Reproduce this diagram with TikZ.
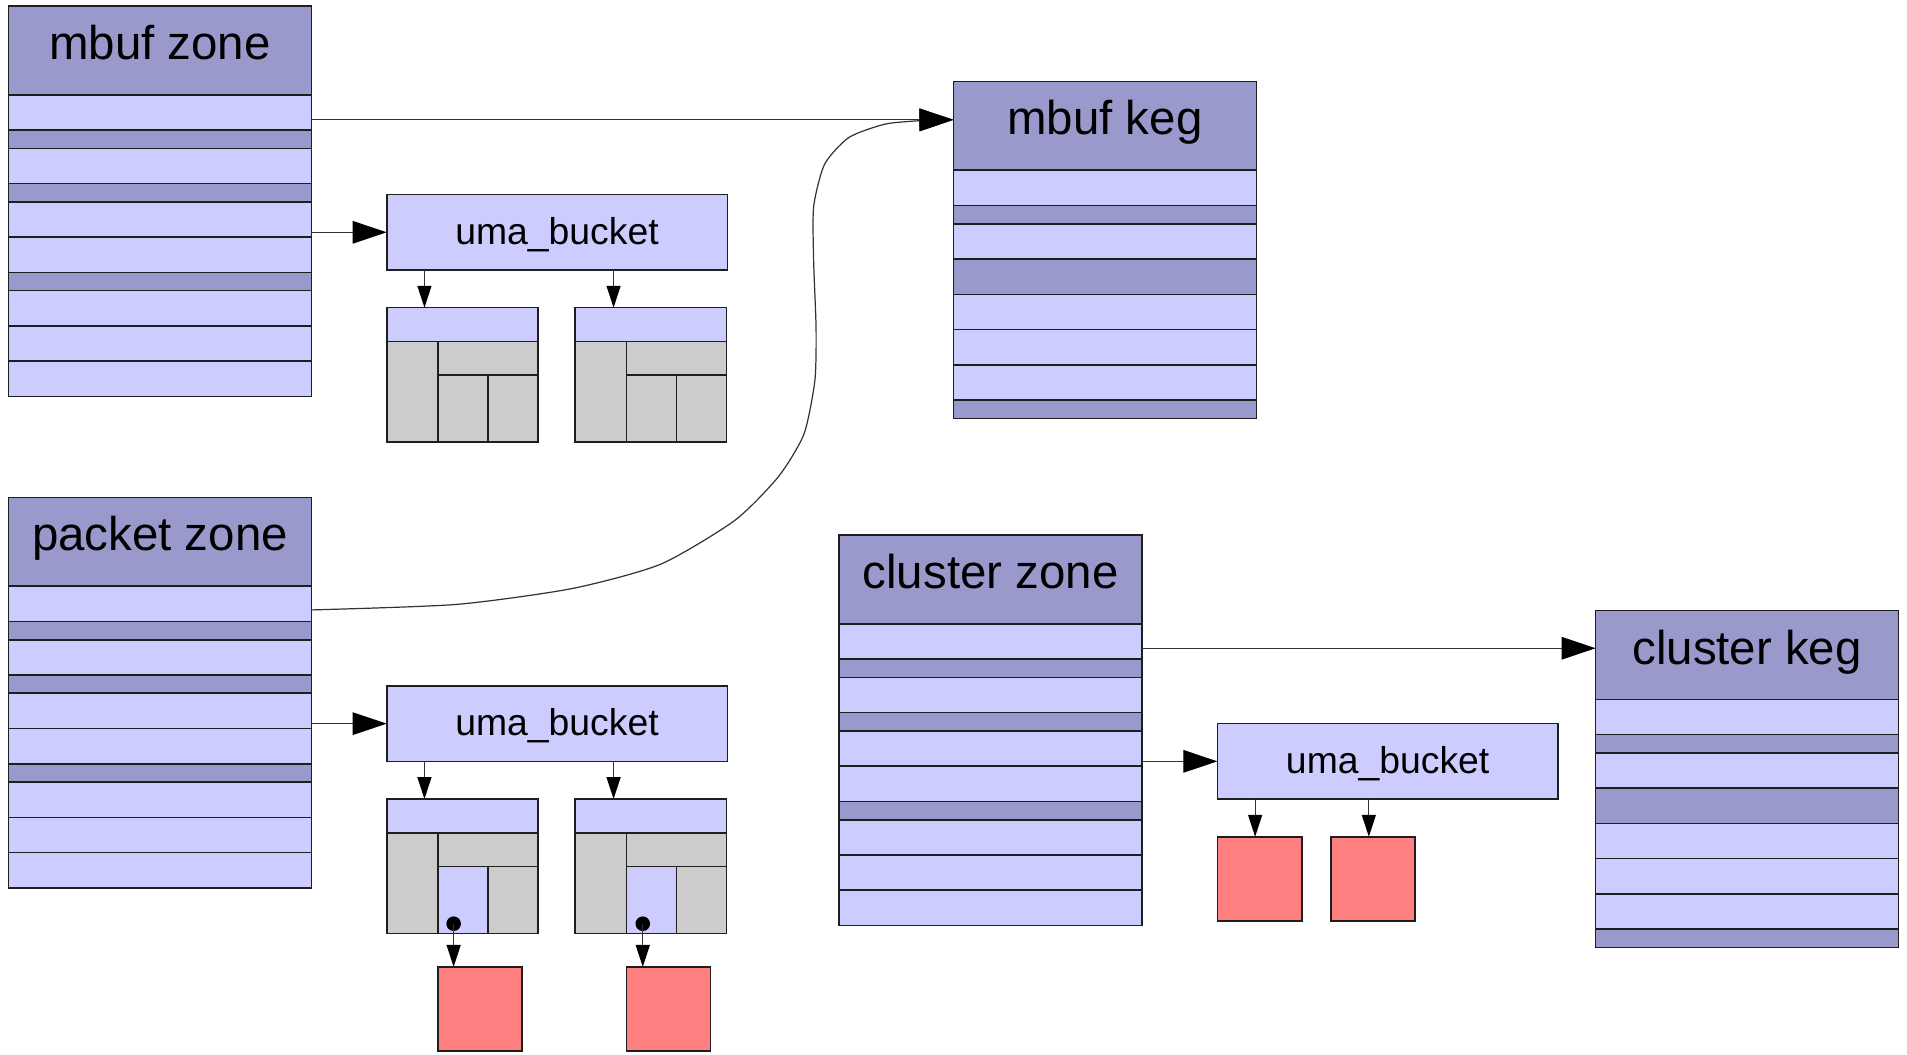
\documentclass[tikz,border=0pt]{standalone}
\usepackage{fontspec}
\setmainfont{Liberation Sans}
\usetikzlibrary{arrows.meta,calc}

\definecolor{lavdark}{HTML}{9999CC}
\definecolor{lavlight}{HTML}{CCCCFF}
\definecolor{slabgray}{HTML}{CCCCCC}
\definecolor{itemred}{HTML}{FF8080}
\definecolor{edge}{HTML}{1E1E1E}
\definecolor{wire}{HTML}{333333}

\tikzset{
  cell/.style={draw=edge, line width=1.3pt, inner sep=0pt, outer sep=0pt,
               anchor=north west},
  hdrbox/.style={cell, fill=lavdark, minimum width=249pt, minimum height=73pt,
                 text height=44pt, text depth=29pt,
                 font=\fontsize{39}{44}\selectfont},
  rowbox/.style={cell, minimum width=249pt},
  bucketbox/.style={cell, fill=lavlight, minimum width=280pt, minimum height=62pt,
                    text height=41pt, text depth=21pt,
                    font=\fontsize{30.7}{36}\selectfont},
  itembox/.style={cell, fill=itemred, minimum width=69.3pt, minimum height=69.3pt},
  dotmark/.style={circle, fill=black, inner sep=0pt, minimum size=12pt},
  wirebig/.style={draw=wire, line width=1pt,
                  -{Triangle[length=28pt,width=18.5pt,color=black]}},
  wiresmall/.style={draw=wire, line width=1pt,
                    -{Triangle[length=18pt,width=11.5pt,color=black]}},
}

% Zone: header plus ten slot rows (lavlight = free slot, lavdark = used slot)
\newcommand\zonestack[4]{%
  \node[hdrbox] (#1h) at (#2,#3) {#4};
  \foreach \off/\ht/\col [count=\i] in
    {73/29/lavlight, 102/15/lavdark, 117/29/lavlight, 146/15/lavdark,
     161/29/lavlight, 190/29/lavlight, 219/15/lavdark, 234/29/lavlight,
     263/29/lavlight, 292/29/lavlight}
    \node[rowbox, fill=\col, minimum height=\ht pt] (#1r\i) at (#2,#3+\off) {};
}
% Keg: header plus slab rows
\newcommand\kegstack[4]{%
  \node[hdrbox] (#1h) at (#2,#3) {#4};
  \foreach \off/\ht/\col [count=\i] in
    {73/29/lavlight, 102/15/lavdark, 117/29/lavlight, 146/29/lavdark,
     175/29/lavlight, 204/29/lavlight, 233/29/lavlight, 262/15/lavdark}
    \node[rowbox, fill=\col, minimum height=\ht pt] (#1r\i) at (#2,#3+\off) {};
}
% Slab: header strip and four item cells; #4 is the fill of the lower middle cell
\newcommand\slabbox[4]{%
  \node[cell, fill=lavlight, minimum width=124.5pt, minimum height=27.7pt] (#1s) at (#2,#3) {};
  \node[cell, fill=slabgray, minimum width=42pt, minimum height=82.8pt] (#1a) at (#2,#3+27.7) {};
  \node[cell, fill=slabgray, minimum width=82.5pt, minimum height=27.7pt] (#1b) at (#2+42,#3+27.7) {};
  \node[cell, fill=#4, minimum width=41.2pt, minimum height=55.1pt] (#1c) at (#2+42,#3+55.4) {};
  \node[cell, fill=slabgray, minimum width=41.3pt, minimum height=55.1pt] (#1d) at (#2+83.2,#3+55.4) {};
}

\begin{document}
\begin{tikzpicture}[x=1pt, y=-1pt]
\useasboundingbox (0,0) rectangle (1568,867);

% zones and kegs
\zonestack{mz}{7}{5}{mbuf zone}
\zonestack{pz}{7}{409}{packet zone}
\zonestack{cz}{690}{440}{cluster zone}
\kegstack{mk}{784}{67}{mbuf keg}
\kegstack{ck}{1312}{502}{cluster keg}

% buckets
\node[bucketbox] (mb) at (318,160) {uma\_bucket};
\node[bucketbox] (pb) at (318,564) {uma\_bucket};
\node[bucketbox] (cb) at (1001,595) {uma\_bucket};

% slabs
\slabbox{ms1}{318}{253}{slabgray}
\slabbox{ms2}{473}{253}{slabgray}
\slabbox{ps1}{318}{657}{lavlight}
\slabbox{ps2}{473}{657}{lavlight}

% items
\node[itembox] (pr1) at (360,795) {};
\node[itembox] (pr2) at (515,795) {};
\node[itembox] (cr1) at (1001,688) {};
\node[itembox] (cr2) at (1094.3,688) {};

% item pointers
\node[dotmark] (pd1) at ($(ps1c.south west)+(13,-8)$) {};
\node[dotmark] (pd2) at ($(ps2c.south west)+(13.5,-8)$) {};

% zone -> keg
\coordinate (mzout) at ([yshift=-6pt]mzr1.east);
\coordinate (mkin) at (mzout -| mkh.west);
\draw[wirebig] (mzout) -- (mkin);
\coordinate (czout) at ([yshift=-5.5pt]czr1.east);
\coordinate (ckin) at (czout -| ckh.west);
\draw[wirebig] (czout) -- (ckin);

% packet zone -> mbuf keg
\coordinate (pzout) at ([yshift=-5pt]pzr1.east);
\draw[wirebig] plot[smooth, tension=0.4] coordinates
  {(pzout) (375,497) (470,484) (543,464) (604,428) (640,392) (661,357)
   (670,313) (671,270) (669,215) (669,170) (678,135) (698,113) (728,102) (760,99) (mkin)};

% zone -> bucket
\draw[wirebig] (mb.west -| mzh.east) -- (mb.west);
\draw[wirebig] (pb.west -| pzh.east) -- (pb.west);
\draw[wirebig] (cb.west -| czh.east) -- (cb.west);

% bucket -> slab / item
\coordinate (ma1) at ([xshift=31pt]ms1s.north west);
\coordinate (ma2) at ([xshift=31.5pt]ms2s.north west);
\coordinate (pa1) at ([xshift=31pt]ps1s.north west);
\coordinate (pa2) at ([xshift=31.5pt]ps2s.north west);
\coordinate (ca1) at ([xshift=31pt]cr1.north west);
\coordinate (ca2) at ([xshift=31.2pt]cr2.north west);
\draw[wiresmall] (ma1 |- mb.south) -- (ma1);
\draw[wiresmall] (ma2 |- mb.south) -- (ma2);
\draw[wiresmall] (pa1 |- pb.south) -- (pa1);
\draw[wiresmall] (pa2 |- pb.south) -- (pa2);
\draw[wiresmall] (ca1 |- cb.south) -- (ca1);
\draw[wiresmall] (ca2 |- cb.south) -- (ca2);

% slab item -> item
\draw[wiresmall] (pd1.center) -- (pd1.center |- pr1.north);
\draw[wiresmall] (pd2.center) -- (pd2.center |- pr2.north);
\end{tikzpicture}
\end{document}
